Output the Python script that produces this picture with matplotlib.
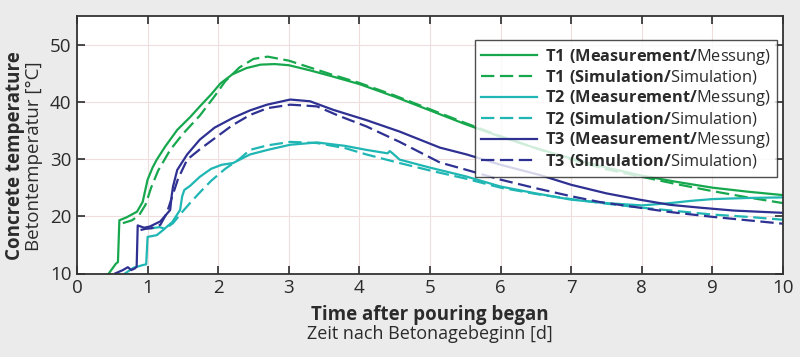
import numpy as np
import matplotlib
matplotlib.use("Agg")
import matplotlib.pyplot as plt

# Daten
t1_meas_x = [0.45, 0.55, 0.58, 0.6, 0.7, 0.85, 0.93, 1.0, 1.07, 1.13, 1.25, 1.42, 1.6, 1.74, 1.9, 2.03,
             2.2, 2.4, 2.6, 2.8, 3.0, 3.3, 3.6, 4.0, 4.5, 5.0, 5.5, 6.0, 6.5, 7.0, 7.5, 8.0, 8.5, 9.0, 9.5, 10.0]
t1_meas_y = [10, 11.7, 12, 19.3, 19.8, 20.8, 22.5, 26.4, 28.5, 29.9, 32.2, 35.1, 37.3, 39.2, 41.3, 43.2,
             44.8, 45.9, 46.5, 46.6, 46.4, 45.5, 44.5, 43.1, 40.9, 38.5, 36.1, 33.9, 31.9, 30.1, 28.5, 27.1,
             26.0, 25.0, 24.3, 23.7]

t1_sim_x = [0.65, 0.78, 0.88, 0.97, 1.05, 1.15, 1.32, 1.5, 1.74, 1.95, 2.1, 2.3, 2.5, 2.7, 3.0, 3.3, 3.6,
            4.0, 4.5, 5.0, 5.5, 6.0, 6.5, 7.0, 7.5, 8.0, 8.5, 9.0, 9.5, 10.0]
t1_sim_y = [18.8, 19.3, 20.2, 22.0, 25.0, 28.0, 31.6, 34.4, 37.6, 41.0, 43.6, 46.0, 47.5, 47.9, 47.2,
            46.0, 44.8, 43.3, 41.1, 38.7, 36.3, 34.0, 31.9, 29.9, 28.2, 26.9, 25.6, 24.4, 23.3, 22.3]

t2_meas_x = [0.68, 0.8, 0.94, 0.98, 1.0, 1.13, 1.22, 1.35, 1.46, 1.49, 1.52, 1.6, 1.74, 1.9, 2.05, 2.21,
             2.45, 2.7, 3.02, 3.4, 3.8, 4.1, 4.4, 4.43, 4.47, 4.57, 5.0, 5.5, 6.0, 6.5, 7.0, 7.5, 8.0,
             8.4, 8.7, 9.0, 9.5, 10.0]
t2_meas_y = [10, 11.0, 11.5, 11.6, 16.4, 16.7, 17.6, 19.0, 21.1, 23.5, 24.6, 25.3, 26.9, 28.3, 29.0, 29.3,
             30.8, 31.6, 32.5, 32.9, 32.3, 31.6, 31.0, 31.4, 31.0, 29.9, 28.5, 27.0, 25.2, 24.0, 22.9,
             22.3, 21.9, 22.3, 22.7, 23.0, 23.2, 23.3]

t2_sim_x = [1.05, 1.17, 1.25, 1.36, 1.48, 1.6, 1.75, 1.9, 2.1, 2.3, 2.45, 2.7, 3.02, 3.4, 3.8, 4.1, 4.57,
            5.0, 5.5, 6.0, 6.5, 7.0, 7.5, 8.0, 8.5, 9.0, 9.5, 10.0]
t2_sim_y = [17.9, 18.1, 17.8, 18.8, 20.6, 22.3, 24.3, 26.2, 28.3, 30.0, 31.6, 32.4, 33.0, 32.8, 31.9,
            30.8, 29.3, 28.0, 26.6, 25.0, 23.9, 23.0, 22.2, 21.5, 20.9, 20.3, 19.9, 19.4]

t3_meas_x = [0.54, 0.65, 0.72, 0.77, 0.82, 0.845, 0.86, 0.95, 1.03, 1.18, 1.32, 1.34, 1.36, 1.42, 1.56,
             1.74, 1.95, 2.21, 2.45, 2.69, 3.02, 3.3, 3.63, 4.1, 4.57, 5.14, 5.52, 6.0, 6.56, 7.0, 7.5,
             7.97, 8.4, 8.83, 9.3, 10.0]
t3_meas_y = [10, 10.6, 11.1, 10.6, 10.9, 11.2, 18.4, 18.0, 18.2, 19.1, 21.1, 23.5, 25.2, 28.1, 30.8,
             33.4, 35.5, 37.2, 38.5, 39.5, 40.4, 40.1, 38.6, 36.8, 34.8, 32.0, 30.8, 29.0, 27.2, 25.5,
             24.0, 22.9, 22.0, 21.5, 21.0, 20.6]

t3_sim_x = [0.9, 0.97, 1.05, 1.18, 1.27, 1.35, 1.43, 1.56, 1.75, 1.98, 2.2, 2.45, 2.7, 3.02, 3.16, 3.4,
            3.7, 4.1, 4.57, 5.14, 5.52, 6.0, 6.5, 7.0, 7.4, 7.97, 8.36, 9.0, 9.5, 10.0]
t3_sim_y = [17.6, 17.8, 17.9, 18.5, 20.5, 23.5, 26.5, 29.9, 31.8, 33.9, 35.9, 37.7, 38.9, 39.5, 39.4,
            39.2, 37.6, 35.7, 33.0, 29.4, 28.1, 26.4, 24.9, 23.5, 22.5, 21.5, 20.8, 19.9, 19.3, 18.7]

labels = [r"$\mathbf{T1\ (Measurement/}$Messung)",
          r"$\mathbf{T1\ (Simulation/}$Simulation)",
          r"$\mathbf{T2\ (Measurement/}$Messung)",
          r"$\mathbf{T2\ (Simulation/}$Simulation)",
          r"$\mathbf{T3\ (Measurement/}$Messung)",
          r"$\mathbf{T3\ (Simulation/}$Simulation)"]

green = "#17a84e"
teal = "#1fb6b3"
navy = "#2e3192"
txt = "#2b2b2b"

plt.rcParams["font.family"] = ["Open Sans", "DejaVu Sans"]
plt.rcParams["mathtext.fontset"] = "custom"
plt.rcParams["mathtext.rm"] = "Open Sans"
plt.rcParams["mathtext.bf"] = "Open Sans:bold"

fig = plt.figure(figsize=(8, 3.57), dpi=100, facecolor="#ebebeb")
ax = fig.add_axes([77 / 800, 1 - 273.5 / 357, 706 / 800, 257.5 / 357])

dash = (0, (6, 2.5))
ax.plot(t1_meas_x, t1_meas_y, color=green, lw=1.6, label=labels[0])
ax.plot(t1_sim_x, t1_sim_y, color=green, lw=1.6, ls=dash, label=labels[1])
ax.plot(t2_meas_x, t2_meas_y, color=teal, lw=1.6, label=labels[2])
ax.plot(t2_sim_x, t2_sim_y, color=teal, lw=1.6, ls=dash, label=labels[3])
ax.plot(t3_meas_x, t3_meas_y, color=navy, lw=1.6, label=labels[4])
ax.plot(t3_sim_x, t3_sim_y, color=navy, lw=1.6, ls=dash, label=labels[5])

ax.set_xlim(0, 10)
ax.set_ylim(10, 55)
ax.set_xticks(range(0, 11))
ax.set_yticks([10, 20, 30, 40, 50])
ax.grid(True, color="#f0dede", lw=0.8)
ax.set_axisbelow(True)
ax.tick_params(direction="in", length=6, width=1.2, top=True, right=True,
               labelsize=13.5, colors=txt, pad=4)
for s in ax.spines.values():
    s.set_color("#333333")
    s.set_linewidth(1.3)

leg = ax.legend(loc="upper right", bbox_to_anchor=(0.9915, 0.907), borderaxespad=0,
                fontsize=11.8, frameon=True, fancybox=False, edgecolor="#222222",
                handlelength=3.4, handletextpad=0.45, labelspacing=0.12, borderpad=0.4)
leg.get_frame().set_linewidth(1.0)
for t in leg.get_texts():
    t.set_color(txt)

# Achsentitel
fig.text(15 / 800, 1 - 156 / 357, "Concrete temperature", rotation=90, ha="center", va="center",
         fontsize=13.5, fontweight="bold", color=txt)
fig.text(34 / 800, 1 - 156 / 357, "Betontemperatur [°C]", rotation=90, ha="center", va="center",
         fontsize=13.5, color=txt)
fig.text(430 / 800, 1 - 315 / 357, "Time after pouring began", ha="center", va="center",
         fontsize=13.5, fontweight="bold", color=txt)
fig.text(430 / 800, 1 - 334 / 357, "Zeit nach Betonagebeginn [d]", ha="center", va="center",
         fontsize=13, color=txt)

fig.savefig("out.png", dpi=100, facecolor=fig.get_facecolor())
